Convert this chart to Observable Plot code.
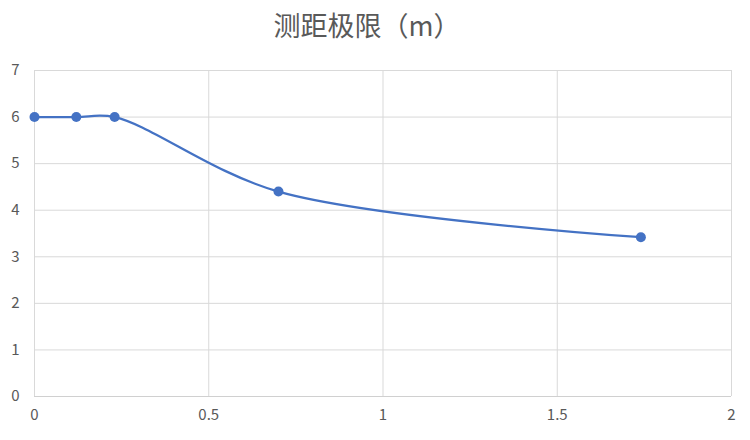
<!DOCTYPE html>
<html>
<head>
<meta charset="utf-8">
<script src="https://cdn.jsdelivr.net/npm/d3@7"></script>
<script src="https://cdn.jsdelivr.net/npm/@observablehq/plot@0.6"></script>
<style>
  html, body { margin: 0; padding: 0; background: #fff; }
  #title {
    width: 750px; height: 50px; box-sizing: border-box;
    padding-right: 16px;
    text-align: center; line-height: 50px;
    font-family: "Noto Sans CJK SC", "Noto Sans", sans-serif;
    font-size: 27px; color: #595959;
  }
  #chart svg { display: block; }
</style>
</head>
<body>
<div id="title">测距极限（m）</div>
<div id="chart"></div>
<script>
const xValues = [0, 0.12, 0.23, 0.7, 1.74];
const yValues = [6, 6, 6, 4.4, 3.42];
const xTicks = [0, 0.5, 1, 1.5, 2];
const yTicks = [0, 1, 2, 3, 4, 5, 6, 7];

const data = xValues.map((x, i) => ({x, y: yValues[i]}));

const chart = Plot.plot({
  width: 750,
  height: 390,
  marginTop: 20,
  marginBottom: 44,
  marginLeft: 34,
  marginRight: 19,
  style: {fontFamily: "'Noto Sans CJK SC', 'Noto Sans', sans-serif", fontSize: "15px", color: "#595959", background: "#fff"},
  x: {domain: [0, 2], ticks: xTicks, tickSize: 0, tickPadding: 13, label: null},
  y: {domain: [0, 7], ticks: yTicks, tickSize: 0, tickPadding: 15, label: null},
  marks: [
    Plot.gridX(xTicks, {stroke: "#d9d9d9", strokeOpacity: 1, strokeWidth: 1}),
    Plot.gridY(yTicks, {stroke: "#d9d9d9", strokeOpacity: 1, strokeWidth: 1}),
    Plot.ruleY([0], {stroke: "#d0d0d0", strokeWidth: 1}),
    Plot.axisX({ticks: xTicks, tickSize: 0, tickPadding: 13, tickFormat: d => String(d), fill: "#595959"}),
    Plot.axisY({ticks: yTicks, tickSize: 0, tickPadding: 15, tickFormat: d => String(d), fill: "#595959"}),
    Plot.line(data, {x: "x", y: "y", curve: "catmull-rom", stroke: "#4472C4", strokeWidth: 2.25}),
    Plot.dot(data, {x: "x", y: "y", r: 5, fill: "#4472C4", stroke: "none"})
  ]
});
document.getElementById("chart").appendChild(chart);
</script>
</body>
</html>
